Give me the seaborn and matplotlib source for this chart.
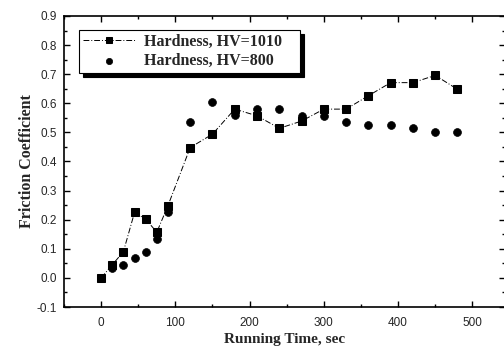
import matplotlib
matplotlib.use("Agg")
import matplotlib.pyplot as plt
import seaborn as sns
import pandas as pd
from matplotlib.ticker import MultipleLocator

time_sec = [0, 15, 30, 45, 60, 75, 90, 120, 150, 180, 210, 240, 270, 300, 330, 360, 390, 420, 450, 480]
hv1010 = [0.0, 0.045, 0.09, 0.225, 0.202, 0.157, 0.248, 0.448, 0.494, 0.58, 0.557, 0.514, 0.539, 0.58, 0.58, 0.626, 0.671, 0.671, 0.696, 0.648]
hv800 = [0.0, 0.035, 0.045, 0.068, 0.089, 0.134, 0.228, 0.535, 0.603, 0.56, 0.58, 0.58, 0.557, 0.557, 0.537, 0.525, 0.525, 0.514, 0.5, 0.5]
label_1010 = "Hardness, HV=1010"
label_800 = "Hardness, HV=800"
x_label = "Running Time, sec"
y_label = "Friction Coefficient"

df1 = pd.DataFrame({"t": time_sec, "f": hv1010})
df2 = pd.DataFrame({"t": time_sec, "f": hv800})

sns.set_style("white")
fig = plt.figure(figsize=(5.04, 3.47), dpi=100)
W, H = 504, 347
left, right, top, bottom = 64, 505, 16, 307
ax = fig.add_axes([left / W, 1 - bottom / H, (right - left) / W, (bottom - top) / H])

sns.lineplot(data=df1, x="t", y="f", ax=ax, color="black", linewidth=0.7,
             linestyle=(0, (6, 2, 1, 2)), marker="s", markersize=5.3, markeredgecolor="black",
             markerfacecolor="black", label=label_1010, legend=False)
sns.scatterplot(data=df2, x="t", y="f", ax=ax, color="black", marker="o", s=32,
                edgecolor="black", linewidth=0.5, label=label_800, legend=False)

ax.set_xlim(-50, 544)
ax.set_ylim(-0.1, 0.9)
ax.xaxis.set_major_locator(MultipleLocator(100))
ax.xaxis.set_minor_locator(MultipleLocator(50))
ax.yaxis.set_minor_locator(MultipleLocator(0.05))
ax.tick_params(which="both", direction="in", top=True, right=True, bottom=True, left=True,
               color="black", width=1)
ax.tick_params(which="major", length=4, labelsize=8.5)
ax.tick_params(axis="x", which="major", pad=7)
ax.tick_params(axis="y", which="major", pad=5)
ax.tick_params(which="minor", length=2)
ax.set_yticks([round(-0.1 + 0.1 * i, 1) for i in range(11)])
ax.set_yticklabels([f"{-0.1 + 0.1 * i:.1f}" for i in range(11)])
for lab in ax.get_xticklabels() + ax.get_yticklabels():
    lab.set_family("Liberation Sans")
    lab.set_fontweight("normal")

for sp in ax.spines.values():
    sp.set_color("black")
    sp.set_linewidth(1.2)

ax.set_xlabel(x_label, family="Liberation Serif", fontweight="bold", fontsize=11, labelpad=3)
ax.set_ylabel(y_label, family="Liberation Serif", fontweight="bold", fontsize=11.5, labelpad=1)

aw, ah = right - left, bottom - top
x0 = (79 - left) / aw
x1 = (300 - left) / aw
y1 = 1 - (30 - top) / ah
leg = ax.legend(loc="upper left", bbox_to_anchor=(x0, y1 - 0.2, x1 - x0, 0.2), mode="expand",
                frameon=True, fancybox=False, shadow={"color": "black", "alpha": 1, "ox": 3, "oy": -3},
                prop={"family": "Liberation Serif", "weight": "bold", "size": 11.5},
                borderpad=0.25, handlelength=3.3, labelspacing=0.2, borderaxespad=0,
                handletextpad=0.5, markerscale=0.8)
leg.get_frame().set_edgecolor("black")
leg.get_frame().set_linewidth(0.8)

fig.savefig("out.png", dpi=100)
